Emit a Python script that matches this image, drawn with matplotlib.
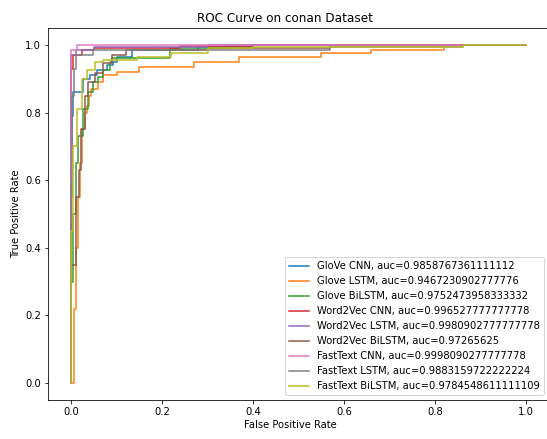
import numpy as np
import matplotlib
matplotlib.use("Agg")
import matplotlib.pyplot as plt

# ROC curves (fpr, tpr breakpoints, step-post)
labels = [
    "GloVe CNN, auc=0.9858767361111112",
    "Glove LSTM, auc=0.9467230902777776",
    "Glove BiLSTM, auc=0.9752473958333332",
    "Word2Vec CNN, auc=0.996527777777778",
    "Word2Vec LSTM, auc=0.9980902777777778",
    "Word2Vec BiLSTM, auc=0.97265625",
    "FastText CNN, auc=0.9998090277777778",
    "FastText LSTM, auc=0.9883159722222224",
    "FastText BiLSTM, auc=0.9784548611111109",
]

glove_cnn_fpr = [0, 0, 0.003, 0.005, 0.026, 0.042, 0.057, 0.079, 0.092, 0.1, 0.134, 0.28, 0.4, 1.0]
glove_cnn_tpr = [0, 0.55, 0.79, 0.86, 0.90, 0.91, 0.925, 0.94, 0.95, 0.965, 0.985, 0.993, 1.0, 1.0]

glove_lstm_fpr = [0, 0.006, 0.01, 0.015, 0.02, 0.025, 0.03, 0.035, 0.04, 0.045, 0.06, 0.07,
                  0.1, 0.15, 0.27, 0.37, 0.55, 0.66, 0.82, 1.0]
glove_lstm_tpr = [0, 0.22, 0.40, 0.55, 0.65, 0.75, 0.80, 0.82, 0.85, 0.87, 0.89, 0.91,
                  0.92, 0.935, 0.95, 0.964, 0.976, 0.985, 1.0, 1.0]

glove_bilstm_fpr = [0, 0, 0.004, 0.01, 0.015, 0.026, 0.037, 0.048, 0.059, 0.07, 0.085, 0.09,
                    0.218, 0.34, 1.0]
glove_bilstm_tpr = [0, 0.3, 0.5, 0.65, 0.73, 0.81, 0.86, 0.89, 0.905, 0.925, 0.95, 0.96,
                    0.99, 1.0, 1.0]

w2v_cnn_fpr = [0, 0, 0.005, 0.025, 0.05, 0.24, 0.4, 1.0]
w2v_cnn_tpr = [0, 0.93, 0.97, 0.985, 0.992, 0.997, 1.0, 1.0]

w2v_lstm_fpr = [0, 0, 0.01, 0.05, 0.3, 1.0]
w2v_lstm_tpr = [0, 0.97, 0.985, 0.995, 1.0, 1.0]

w2v_bilstm_fpr = [0, 0, 0.01, 0.018, 0.022, 0.03, 0.037, 0.053, 0.07, 0.09, 0.12, 0.3, 0.57, 1.0]
w2v_bilstm_tpr = [0, 0.35, 0.55, 0.63, 0.75, 0.85, 0.89, 0.917, 0.947, 0.97, 0.985, 0.99, 1.0, 1.0]

ft_cnn_fpr = [0, 0, 0.013, 1.0]
ft_cnn_tpr = [0, 0.985, 1.0, 1.0]

ft_lstm_fpr = [0, 0, 0.003, 0.006, 0.01, 0.048, 0.57, 0.86, 1.0]
ft_lstm_tpr = [0, 0.6, 0.85, 0.93, 0.97, 0.985, 0.995, 1.0, 1.0]

ft_bilstm_fpr = [0, 0, 0.004, 0.013, 0.024, 0.035, 0.053, 0.07, 0.145, 0.22, 0.3, 0.4, 0.86, 1.0]
ft_bilstm_tpr = [0, 0.45, 0.7, 0.81, 0.9, 0.925, 0.95, 0.955, 0.965, 0.975, 0.99, 0.995, 1.0, 1.0]

curves = [
    (glove_cnn_fpr, glove_cnn_tpr),
    (glove_lstm_fpr, glove_lstm_tpr),
    (glove_bilstm_fpr, glove_bilstm_tpr),
    (w2v_cnn_fpr, w2v_cnn_tpr),
    (w2v_lstm_fpr, w2v_lstm_tpr),
    (w2v_bilstm_fpr, w2v_bilstm_tpr),
    (ft_cnn_fpr, ft_cnn_tpr),
    (ft_lstm_fpr, ft_lstm_tpr),
    (ft_bilstm_fpr, ft_bilstm_tpr),
]

W, H, DPI = 547, 439, 72
fig = plt.figure(figsize=(W / DPI, H / DPI), dpi=DPI)
# the screenshot is cut just past the right spine
ax = fig.add_axes([48.25 / W, 39 / H, 500.75 / W, 372 / H])

for (fpr, tpr), lab in zip(curves, labels):
    ax.plot(fpr, tpr, drawstyle="steps-post", label=lab)

ax.set_xlim(-0.05, 1.05)
ax.set_ylim(-0.05, 1.05)
ax.set_title("ROC Curve on conan Dataset", x=0.473)
ax.set_xlabel("False Positive Rate")
ax.xaxis.set_label_coords(0.483, -0.055)
ax.set_ylabel("True Positive Rate")
ax.legend(loc="lower right")

fig.savefig("out.png", dpi=DPI)
